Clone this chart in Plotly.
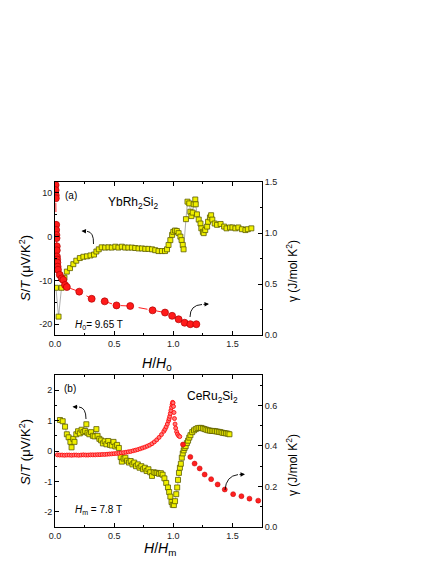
import plotly.graph_objects as go

# ---------------- data: panel (a) YbRh2Si2 ----------------
a_s_x = [0.008, 0.03, 0.055, 0.08, 0.10, 0.127, 0.155, 0.18, 0.21, 0.24, 0.27, 0.30, 0.33, 0.35, 0.37,
         0.395, 0.424, 0.452, 0.48, 0.51, 0.536, 0.565, 0.593, 0.62, 0.65, 0.678, 0.706, 0.735, 0.763,
         0.79, 0.82, 0.847, 0.875, 0.904, 0.93, 0.947, 0.96, 0.975, 0.99, 1.0, 1.015, 1.03, 1.045, 1.06,
         1.07, 1.08, 1.087, 1.107, 1.12, 1.135, 1.144, 1.153, 1.164, 1.172, 1.186, 1.19, 1.2, 1.215,
         1.23, 1.237, 1.25, 1.257, 1.27, 1.286, 1.294, 1.31, 1.32, 1.33, 1.35, 1.37, 1.4, 1.43, 1.45,
         1.48, 1.5, 1.525, 1.55, 1.58, 1.61, 1.63, 1.66]
a_s_y = [-11.7, -18.3, -11.7, -9.4, -8.0, -7.2, -6.3, -5.5, -4.9, -4.6, -4.5, -4.3, -4.1, -3.4, -2.9,
         -2.44, -2.5, -2.44, -2.5, -2.3, -2.5, -2.3, -2.5, -2.5, -2.5, -2.6, -2.7, -2.7, -2.8,
         -2.8, -2.9, -3.1, -3.3, -3.3, -3.3, -2.9, -1.9, -0.8, 0.4, 1.1, 1.4, 1.3, 0.8, 0.0,
         -0.8, -1.9, -2.9, 4.0, 8.0, 7.6, 5.7, 4.7, 5.5, 7.4, 8.5, 7.4, 5.1, 3.9,
         3.0, 1.9, 1.1, 0.8, 1.5, 2.3, 3.4, 4.4, 4.9, 3.9, 3.0, 2.7, 2.9, 2.3, 1.9,
         2.1, 2.1, 1.9, 2.1, 1.7, 1.5, 1.7, 1.9]

a_g_x = [0.005, 0.005, 0.006, 0.007, 0.010, 0.010, 0.012, 0.013, 0.015, 0.015, 0.016, 0.018, 0.020,
         0.022, 0.025, 0.04, 0.057, 0.07, 0.085, 0.10, 0.205, 0.31, 0.42, 0.52, 0.636, 0.825, 0.93,
         0.99, 1.045, 1.096, 1.144, 1.195]
a_g_y = [1.47, 1.42, 1.37, 1.34, 1.08, 1.03, 0.98, 0.95, 0.87, 0.83, 0.77, 0.74, 0.71,
         0.67, 0.64, 0.59, 0.555, 0.54, 0.49, 0.47, 0.425, 0.355, 0.33, 0.29, 0.284, 0.242, 0.22,
         0.188, 0.154, 0.12, 0.106, 0.106]

# ---------------- data: panel (b) CeRu2Si2 ----------------
b_s_x = [0.042, 0.065, 0.085, 0.10, 0.115, 0.13, 0.14, 0.155, 0.165, 0.18, 0.195, 0.21, 0.225, 0.24,
         0.255, 0.265, 0.275, 0.29, 0.305, 0.32, 0.335, 0.35, 0.36, 0.375, 0.39, 0.405, 0.42, 0.435,
         0.45, 0.465, 0.48, 0.495, 0.51, 0.525, 0.54, 0.555, 0.565, 0.58, 0.595, 0.61, 0.625, 0.64,
         0.655, 0.67, 0.685, 0.70, 0.715, 0.73, 0.745, 0.76, 0.775, 0.79, 0.805, 0.82, 0.835, 0.85,
         0.865, 0.88, 0.895, 0.91, 0.925, 0.94, 0.955, 0.965, 0.975, 0.985, 0.995, 1.005, 1.015,
         1.025, 1.033, 1.04, 1.048, 1.056, 1.064, 1.072, 1.08, 1.088, 1.096, 1.105, 1.115, 1.125,
         1.135, 1.145, 1.16, 1.175, 1.19, 1.205, 1.22, 1.235, 1.25, 1.265, 1.28, 1.295, 1.31, 1.325,
         1.34, 1.355, 1.37, 1.385, 1.40, 1.415, 1.43, 1.445, 1.46, 1.475]
b_s_y = [1.02, 0.98, 0.80, 0.55, 0.45, 0.30, 0.12, 0.40, 0.30, 0.55, 0.65, 0.58, 0.70, 0.62,
         0.66, 0.88, 0.60, 0.55, 0.62, 0.50, 0.48, 0.72, 0.50, 0.40, 0.35, 0.25, 0.32, 0.22,
         0.33, 0.20, 0.18, 0.30, 0.15, 0.20, 0.10, -0.20, -0.35, -0.25, -0.22, -0.32, -0.38, -0.33,
         -0.44, -0.38, -0.50, -0.44, -0.55, -0.50, -0.60, -0.55, -0.66, -0.60, -0.70, -0.82, -0.70, -0.72,
         -0.72, -0.75, -0.73, -0.78, -0.90, -1.05, -1.20, -1.35, -1.50, -1.68, -1.77, -1.78, -1.65,
         -1.42, -1.20, -0.95, -0.72, -0.55, -0.42, -0.22, -0.08, 0.02, 0.10, 0.16, 0.26, 0.34,
         0.44, 0.52, 0.62, 0.68, 0.72, 0.75, 0.76, 0.76, 0.74, 0.72, 0.70, 0.68, 0.67, 0.66,
         0.66, 0.65, 0.64, 0.63, 0.62, 0.60, 0.59, 0.58, 0.57, 0.55]

b_gd_x = [0.02, 0.04, 0.06, 0.08, 0.10, 0.12, 0.14, 0.16, 0.18, 0.20, 0.22, 0.24, 0.26, 0.28, 0.30,
          0.32, 0.34, 0.36, 0.38, 0.40, 0.42, 0.44, 0.46, 0.48, 0.50, 0.52, 0.54, 0.56, 0.58, 0.60,
          0.62, 0.64, 0.66, 0.68, 0.70, 0.72, 0.74, 0.76, 0.78, 0.80, 0.82, 0.84, 0.86, 0.88, 0.90,
          0.92, 0.93, 0.94, 0.95, 0.96, 0.965, 0.97, 0.975, 0.98, 0.985, 0.99, 0.994, 0.998, 1.002,
          1.006, 1.01, 1.015, 1.02, 1.028, 1.036, 1.045, 1.055]
b_gd_y = [0.356, 0.355, 0.355, 0.354, 0.355, 0.355, 0.354, 0.355, 0.355, 0.354, 0.355, 0.356, 0.355,
          0.355, 0.356, 0.356, 0.356, 0.357, 0.357, 0.358, 0.358, 0.359, 0.360, 0.361, 0.362, 0.363,
          0.364, 0.366, 0.367, 0.369, 0.371, 0.373, 0.376, 0.379, 0.382, 0.386, 0.390, 0.394, 0.399,
          0.404, 0.411, 0.420, 0.430, 0.442, 0.456, 0.472, 0.482, 0.494, 0.508, 0.524, 0.534, 0.546,
          0.560, 0.575, 0.590, 0.604, 0.615, 0.612, 0.595, 0.565, 0.535, 0.508, 0.488, 0.470, 0.458,
          0.450, 0.446]

b_g_x = [1.082, 1.144, 1.18, 1.223, 1.265, 1.32, 1.375, 1.435, 1.506, 1.576, 1.644, 1.718]
b_g_y = [0.407, 0.346, 0.313, 0.289, 0.259, 0.236, 0.21, 0.185, 0.162, 0.152, 0.14, 0.13]

# tick labels
x_tickvals = [0, 0.5, 1.0, 1.5]
x_ticktext = ["0.0", "0.5", "1.0", "1.5"]
a_left_vals = [-20, -10, 0, 10]
a_left_text = ["-20", "-10", "0", "10"]
a_right_vals = [0, 0.5, 1.0, 1.5]
a_right_text = ["0.0", "0.5", "1.0", "1.5"]
b_left_vals = [-2, -1, 0, 1, 2]
b_left_text = ["-2", "-1", "0", "1", "2"]
b_right_vals = [0, 0.2, 0.4, 0.6]
b_right_text = ["0.0", "0.2", "0.4", "0.6"]

# ---------------- layout geometry (page coords; page body has 8px margin) ----------------
OFF = 8
WIN_W, WIN_H = 436, 564
W, H = WIN_W - OFF, WIN_H - OFF
PLOT_L, PLOT_R, PLOT_T, PLOT_B = 55, 262, 182, 527   # plot area in page pixels
ML, MT = PLOT_L - OFF, PLOT_T - OFF
MR, MB = W - (PLOT_R - OFF), H - (PLOT_B - OFF)
PW, PH = PLOT_R - PLOT_L, PLOT_B - PLOT_T


def px(xp, yp):
    """page pixel -> paper coordinates"""
    return (xp - PLOT_L) / PW, (PLOT_B - yp) / PH


FONT = "Arial, Liberation Sans, sans-serif"
yellow = dict(symbol="square", size=5, color="#f0f000", line=dict(color="#5c5c00", width=0.8))
red_big = dict(symbol="circle", size=7, color="#ff1a1a", line=dict(color="#b00000", width=0.7))
red_small = dict(symbol="circle", size=5, color="#ff2020", line=dict(color="#c00000", width=0.5))
red_dense = dict(symbol="circle", size=4, color="#ff7a7a", line=dict(color="#ff0000", width=0.8))

fig = go.Figure()
fig.add_trace(go.Scatter(x=a_s_x, y=a_s_y, mode="lines+markers", marker=yellow,
                         line=dict(color="#8a8a8a", width=0.7), xaxis="x", yaxis="y"))
fig.add_trace(go.Scatter(x=a_g_x, y=a_g_y, mode="lines+markers", marker=red_big,
                         line=dict(color="#ff2020", width=1, dash="dash"), xaxis="x", yaxis="y2"))
fig.add_trace(go.Scatter(x=b_gd_x, y=b_gd_y, mode="markers", marker=red_dense, xaxis="x2", yaxis="y4"))
fig.add_trace(go.Scatter(x=b_g_x, y=b_g_y, mode="markers", marker=red_small, xaxis="x2", yaxis="y4"))
fig.add_trace(go.Scatter(x=b_s_x, y=b_s_y, mode="lines+markers", marker=yellow,
                         line=dict(color="#8a8a8a", width=0.6), xaxis="x2", yaxis="y3"))

tickfont = dict(family=FONT, size=9, color="#222")
common = dict(showline=True, linecolor="black", linewidth=1, ticks="inside", ticklen=4,
              tickcolor="black", showgrid=False, zeroline=False, tickfont=tickfont)

ya_dom = [px(0, 335)[1], 1.0]
yb_dom = [0.0, px(0, 375)[1]]

fig.update_layout(
    width=W, height=H, margin=dict(l=ML, r=MR, t=MT, b=MB, autoexpand=False),
    paper_bgcolor="white", plot_bgcolor="white", showlegend=False,
    font=dict(family=FONT, color="black"),
    xaxis=dict(**common, domain=[0, 1], anchor="y", range=[0, 1.75], mirror="ticks",
               tickmode="array", tickvals=x_tickvals, ticktext=x_ticktext,
               minor=dict(ticks="inside", ticklen=2, tickmode="linear", tick0=0, dtick=0.25)),
    yaxis=dict(**common, domain=ya_dom, anchor="x", range=[-22.5, 12.5],
               tickmode="array", tickvals=a_left_vals, ticktext=a_left_text,
               minor=dict(ticks="inside", ticklen=2, tickmode="linear", tick0=0, dtick=5)),
    yaxis2=dict(**common, overlaying="y", side="right", anchor="x", range=[0, 1.5],
                tickmode="array", tickvals=a_right_vals, ticktext=a_right_text,
                minor=dict(ticks="inside", ticklen=2, tickmode="linear", tick0=0, dtick=0.25)),
    xaxis2=dict(**common, domain=[0, 1], anchor="y3", range=[0, 1.75], mirror="ticks",
                tickmode="array", tickvals=x_tickvals, ticktext=x_ticktext,
                minor=dict(ticks="inside", ticklen=2, tickmode="linear", tick0=0, dtick=0.25)),
    yaxis3=dict(**common, domain=yb_dom, anchor="x2", range=[-2.5, 2.5],
                tickmode="array", tickvals=b_left_vals, ticktext=b_left_text,
                minor=dict(ticks="inside", ticklen=2, tickmode="linear", tick0=0, dtick=0.5)),
    yaxis4=dict(**common, overlaying="y3", side="right", anchor="x2", range=[0, 0.75],
                tickmode="array", tickvals=b_right_vals, ticktext=b_right_text,
                minor=dict(ticks="inside", ticklen=2, tickmode="linear", tick0=0, dtick=0.1)),
)

annots = []


def text(xp, yp, s, size, angle=0):
    x, y = px(xp, yp)
    annots.append(dict(x=x, y=y, xref="paper", yref="paper", text=s, showarrow=False,
                       textangle=angle, font=dict(family=FONT, size=size, color="black"),
                       xanchor="center", yanchor="middle"))


text(71, 195, "(a)", 10)
text(133, 203, "YbRh<sub>2</sub>Si<sub>2</sub>", 12)
text(99, 325, "<i>H</i><sub>0</sub>= 9.65 T", 10)
text(70, 388, "(b)", 10)
text(212, 397, "CeRu<sub>2</sub>Si<sub>2</sub>", 12)
text(98, 510, "<i>H</i><sub>m</sub> = 7.8 T", 10)
text(25, 268, "<i>S</i>/<i>T</i> (μV/K<sup>2</sup>)", 13, -90)
text(25, 452, "<i>S</i>/<i>T</i> (μV/K<sup>2</sup>)", 13, -90)
text(292, 271, "γ (J/mol K<sup>2</sup>)", 12, -90)
text(292, 465, "γ (J/mol K<sup>2</sup>)", 12, -90)
text(157, 364, "<i>H</i>/<i>H</i><sub>0</sub>", 14)
text(160, 549, "<i>H</i>/<i>H</i><sub>m</sub>", 14)

shapes = []


def curved_arrow(p0, pc, p1, head):
    x0, y0 = px(*p0)
    xc, yc = px(*pc)
    x1, y1 = px(*p1)
    shapes.append(dict(type="path", xref="paper", yref="paper",
                       path=f"M {x0},{y0} Q {xc},{yc} {x1},{y1}",
                       line=dict(color="black", width=0.9)))
    hx, hy = px(*head)
    annots.append(dict(x=hx, y=hy, xref="paper", yref="paper", showarrow=True,
                       ax=p1[0] - head[0], ay=p1[1] - head[1], arrowhead=2, arrowsize=1,
                       arrowwidth=0.9, arrowcolor="black", text=""))


curved_arrow((93.5, 244), (94, 232), (87, 231.3), (81.5, 231))
curved_arrow((190, 317), (190, 305), (202, 304.5), (209, 304))
curved_arrow((86, 419), (86, 407.5), (79, 407), (72.5, 406.7))
curved_arrow((225, 490), (226, 476), (238, 474.6), (245, 474.3))

fig.update_layout(annotations=annots, shapes=shapes)
fig.write_html("out.html")
